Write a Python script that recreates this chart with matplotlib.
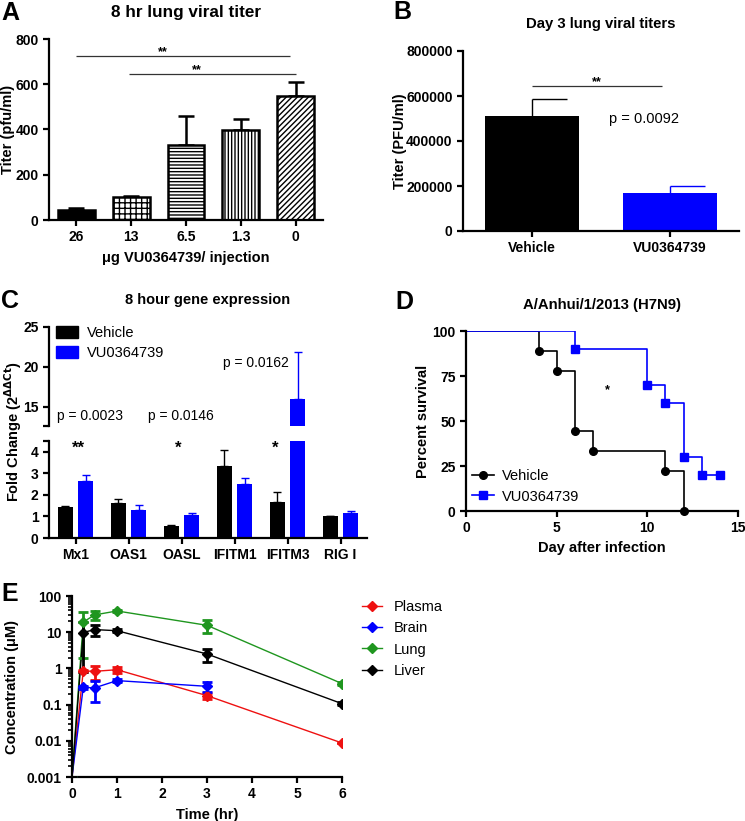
import numpy as np
import matplotlib
matplotlib.use('Agg')
import matplotlib.pyplot as plt
from matplotlib.patches import Patch
from matplotlib.lines import Line2D
from matplotlib.ticker import LogLocator, NullFormatter, FixedLocator

# ---- data -------------------------------------------------------------
# A: 8 hr lung viral titer
doses = ['26', '13', '6.5', '1.3', '0']
titer_8h = [45, 100, 333, 398, 550]
titer_8h_err = [8, 6, 125, 50, 62]
hatches_a = ['', '+++', '-----', '|||||', '//////']

# B: day 3 lung viral titers
groups_b = ['Vehicle', 'VU0364739']
titer_d3 = [512000, 170000]
titer_d3_err = [76000, 32000]

# C: 8 hour gene expression
genes = ['Mx1', 'OAS1', 'OASL', 'IFITM1', 'IFITM3', 'RIG I']
fc_vehicle = [1.43, 1.64, 0.56, 3.33, 1.66, 1.02]
fc_vehicle_err = [0.06, 0.15, 0.05, 0.74, 0.48, 0.02]
fc_vu = [2.64, 1.28, 1.05, 2.49, 16.0, 1.17]
fc_vu_err = [0.30, 0.27, 0.13, 0.28, 5.9, 0.06]

# D: survival
days_vehicle = [0, 4, 5, 6, 7, 11, 12]
surv_vehicle = [100, 88.9, 77.8, 44.4, 33.3, 22.2, 0]
days_vu = [0, 6, 10, 11, 12, 13, 14]
surv_vu = [100, 90, 70, 60, 30, 20, 20]

# E: pharmacokinetics
times = [0, 0.25, 0.5, 1, 3, 6]
plasma = [0.001, 0.85, 0.83, 0.92, 0.177, 0.0087]
plasma_err = [0, 0.05, 0.35, 0.15, 0.03, 0]
brain = [0.001, 0.30, 0.29, 0.46, 0.32, np.nan]
brain_err = [0, 0.03, 0.17, 0.04, 0.09, 0]
lung = [0.001, 19.0, 30.0, 38.6, 15.5, 0.38]
lung_err = [0, 17.0, 8.0, 3.0, 6.0, 0.03]
liver = [0.001, 9.8, 11.8, 11.0, 2.5, 0.106]
liver_err = [0, 9.0, 4.0, 1.0, 1.0, 0.01]

BLUE = '#0000ff'

plt.rcParams['font.family'] = ['Liberation Sans', 'DejaVu Sans']
plt.rcParams['font.size'] = 10
plt.rcParams['font.weight'] = 'bold'
plt.rcParams['axes.labelweight'] = 'bold'
plt.rcParams['axes.titleweight'] = 'bold'
plt.rcParams['axes.linewidth'] = 1.6
plt.rcParams['xtick.major.width'] = 1.6
plt.rcParams['ytick.major.width'] = 1.6
plt.rcParams['xtick.major.size'] = 4
plt.rcParams['ytick.major.size'] = 4
plt.rcParams['hatch.linewidth'] = 1.0

W, H = 745, 821
fig = plt.figure(figsize=(W / 100, H / 100), dpi=100)


def add_axes(left, right, top, bottom):
    ax = fig.add_axes([left / W, 1 - bottom / H, (right - left) / W, (bottom - top) / H])
    ax.spines['top'].set_visible(False)
    ax.spines['right'].set_visible(False)
    ax._px = (left, right)
    return ax


def ylabel_at(ax, text, x_px, size=10.5):
    # x_px is the centre of the rotated label, in figure pixels
    ax.set_ylabel(text, fontsize=size, va='center')
    left, right = ax._px
    ax.yaxis.set_label_coords((x_px - left) / (right - left), 0.5)


def title_at(ax, text, y_px, size=10.5):
    x0, x1 = ax._px
    fig.text((x0 + x1) / 2 / W, 1 - y_px / H, text, ha='center', va='center',
             fontsize=size, fontweight='bold')


def panel_letter(x, y, s):
    fig.text(x / W, 1 - y / H, s, fontsize=18, fontweight='bold', va='center', ha='left')


def fig_legend(handles, x, y, **kw):
    fig.legend(handles=handles, loc='upper left', bbox_to_anchor=(x / W, 1 - y / H),
               frameon=False, borderpad=0, borderaxespad=0,
               prop={'weight': 'normal', 'size': 10.5}, **kw)


# ---- A ----------------------------------------------------------------
ax = add_axes(49, 323, 39, 220)
xa = np.arange(len(doses))
for i in range(len(doses)):
    ax.bar(xa[i], titer_8h[i], width=0.67, color='black' if i == 0 else 'white',
           edgecolor='black', linewidth=1.8, hatch=hatches_a[i], zorder=2)
ax.errorbar(xa, titer_8h, yerr=[np.zeros(len(doses)), titer_8h_err], fmt='none',
            ecolor='black', elinewidth=1.8, capsize=6, capthick=1.8, zorder=1)
ax.set_xlim(-0.5, 4.5)
ax.set_ylim(0, 800)
ax.set_yticks([0, 200, 400, 600, 800])
ax.set_xticks(xa)
ax.set_xticklabels(doses)
ylabel_at(ax, 'Titer (pfu/ml)', 8, 10.5)
ax.set_xlabel('μg VU0364739/ injection', fontsize=10.5, labelpad=5)
title_at(ax, '8 hr lung viral titer', 13, 12.3)
ax.hlines(725, 0, 3.9, color='#333333', linewidth=0.9)
ax.hlines(645, 0.96, 4.0, color='#333333', linewidth=0.9)
ax.text(1.57, 727, '**', ha='center', va='baseline', fontsize=9)
ax.text(2.2, 647, '**', ha='center', va='baseline', fontsize=9)
panel_letter(1, 13, 'A')

# ---- B ----------------------------------------------------------------
ax = add_axes(463, 739, 51, 231)
xb = np.arange(len(groups_b))
colors_b = ['black', BLUE]
ax.bar(xb, titer_d3, width=0.68, color=colors_b, zorder=2)
for i in range(len(groups_b)):
    top = titer_d3[i] + titer_d3_err[i]
    ax.vlines(xb[i], titer_d3[i], top, color=colors_b[i], linewidth=1.0, zorder=1)
    ax.hlines(top, xb[i], xb[i] + 0.25, color=colors_b[i], linewidth=1.0, zorder=1)
ax.set_xlim(-0.5, 1.5)
ax.set_ylim(0, 800000)
ax.set_yticks([0, 200000, 400000, 600000, 800000])
ax.set_xticks(xb)
ax.set_xticklabels(groups_b)
ylabel_at(ax, 'Titer (PFU/ml)', 400, 10.5)
title_at(ax, 'Day 3 lung viral titers', 24, 10.7)
ax.hlines(644000, 0.0, 0.94, color='#333333', linewidth=0.9)
ax.text(0.47, 650000, '**', ha='center', va='baseline', fontsize=9)
ax.text(0.56, 498000, 'p = 0.0092', ha='left', va='center', fontsize=10.5, fontweight='normal')
panel_letter(393, 12, 'B')

# ---- C ----------------------------------------------------------------
ax_up = add_axes(49, 367, 327, 426)
ax_lo = add_axes(49, 367, 441, 538)
xc = np.arange(len(genes))
off = 0.19
for a in (ax_up, ax_lo):
    a.bar(xc - off, fc_vehicle, width=0.29, color='black', zorder=2)
    a.bar(xc + off, fc_vu, width=0.29, color=BLUE, zorder=2)
    a.errorbar(xc - off, fc_vehicle, yerr=[np.zeros(len(genes)), fc_vehicle_err], fmt='none',
               ecolor='black', elinewidth=1.0, capsize=3, capthick=1.0, zorder=1)
    a.errorbar(xc + off, fc_vu, yerr=[np.zeros(len(genes)), fc_vu_err], fmt='none',
               ecolor=BLUE, elinewidth=1.0, capsize=3, capthick=1.0, zorder=1)
    a.set_xlim(-0.5, 5.5)
ax_up.set_ylim(12.6, 25)
ax_up.set_yticks([12.6, 15, 20, 25])
ax_up.set_yticklabels(['', '15', '20', '25'])
ax_up.spines['bottom'].set_visible(False)
ax_up.set_xticks([])
ax_lo.set_ylim(0, 4.5)
ax_lo.set_yticks([0, 1, 2, 3, 4, 4.5])
ax_lo.set_yticklabels(['0', '1', '2', '3', '4', ''])
ax_lo.set_xticks(xc)
ax_lo.set_xticklabels(genes)
title_at(ax_up, '8 hour gene expression', 300, 10.5)
ax_up.text(-0.34, 13.9, 'p = 0.0023', fontsize=10, fontweight='normal', va='center')
ax_up.text(1.36, 13.9, 'p = 0.0146', fontsize=10, fontweight='normal', va='center')
ax_up.text(2.78, 20.5, 'p = 0.0162', fontsize=10, fontweight='normal', va='center')
ax_lo.text(0.05, 3.95, '**', ha='center', va='baseline', fontsize=12)
ax_lo.text(1.93, 3.95, '*', ha='center', va='baseline', fontsize=12)
ax_lo.text(3.77, 3.95, '*', ha='center', va='baseline', fontsize=12)
fig_legend([Patch(color='black', label='Vehicle'), Patch(color=BLUE, label='VU0364739')],
           56, 326, handlelength=1.5, handleheight=0.85, handletextpad=0.6, labelspacing=0.4)
fig.text(13 / W, 1 - 432 / H, r'Fold Change (2$^{\mathbf{\Delta\Delta Ct}}$)', rotation=90,
         ha='center', va='center', fontsize=10.5)
panel_letter(1, 301, 'C')

# ---- D ----------------------------------------------------------------
ax = add_axes(466, 738, 331, 511)
ax.step(days_vehicle, surv_vehicle, where='post', color='black', linewidth=1.2)
ax.plot(days_vehicle[1:], surv_vehicle[1:], 'o', color='black', markersize=5.5, clip_on=False)
ax.step(days_vu, surv_vu, where='post', color=BLUE, linewidth=1.2)
ax.plot(days_vu[1:], surv_vu[1:], 's', color=BLUE, markersize=5.5, clip_on=False)
ax.set_xlim(0, 15)
ax.set_ylim(0, 100)
ax.set_xticks([0, 5, 10, 15])
ax.set_yticks([0, 25, 50, 75, 100])
ax.set_xlabel('Day after infection', fontsize=10.5)
ylabel_at(ax, 'Percent survival', 423, 10.5)
title_at(ax, 'A/Anhui/1/2013 (H7N9)', 305, 10.7)
ax.text(7.8, 67, '*', ha='center', va='center', fontsize=9)
fig_legend([Line2D([], [], color='black', marker='o', markersize=5.5, linewidth=1.2, label='Vehicle'),
            Line2D([], [], color=BLUE, marker='s', markersize=5.5, linewidth=1.2, label='VU0364739')],
           472, 469, handlelength=1.5, handletextpad=0.55, labelspacing=0.45)
panel_letter(395, 302, 'D')

# ---- E ----------------------------------------------------------------
ax = add_axes(72, 342, 596, 777)
series_e = [('Plasma', plasma, plasma_err, '#ee1111'),
            ('Brain', brain, brain_err, BLUE),
            ('Lung', lung, lung_err, '#1f961f'),
            ('Liver', liver, liver_err, 'black')]
handles = []
for name, vals, err, col in series_e:
    vals = np.array(vals)
    err = np.array(err)
    ax.plot(times, vals, color=col, linewidth=1.0, zorder=2)
    ax.errorbar(times, vals, yerr=err, fmt='none', ecolor=col, elinewidth=2.0,
                capsize=3.5, capthick=2.0, zorder=3)
    ax.plot(times[1:], vals[1:], 'D', color=col, markersize=5, zorder=4)
    handles.append(Line2D([], [], color=col, marker='D', markersize=5, linewidth=1.0, label=name))
ax.set_yscale('log')
ax.set_ylim(0.001, 100)
ax.set_xlim(0, 6)
ax.set_xticks([0, 1, 2, 3, 4, 5, 6])
yt = [0.001, 0.01, 0.1, 1, 10, 100]
ax.yaxis.set_major_locator(FixedLocator(yt))
ax.set_yticklabels(['0.001', '0.01', '0.1', '1', '10', '100'])
ax.yaxis.set_minor_locator(LogLocator(base=10, subs=np.arange(2, 10)))
ax.yaxis.set_minor_formatter(NullFormatter())
ax.tick_params(axis='y', which='minor', length=3, width=1.2)
ax.set_xlabel('Time (hr)', fontsize=10.5, labelpad=5)
ylabel_at(ax, 'Concentration (μM)', 12, 10.5)
fig_legend(handles, 362, 600, handlelength=1.4, handletextpad=0.75, labelspacing=0.5)
panel_letter(1, 594, 'E')

fig.savefig('out.png', dpi=100)
